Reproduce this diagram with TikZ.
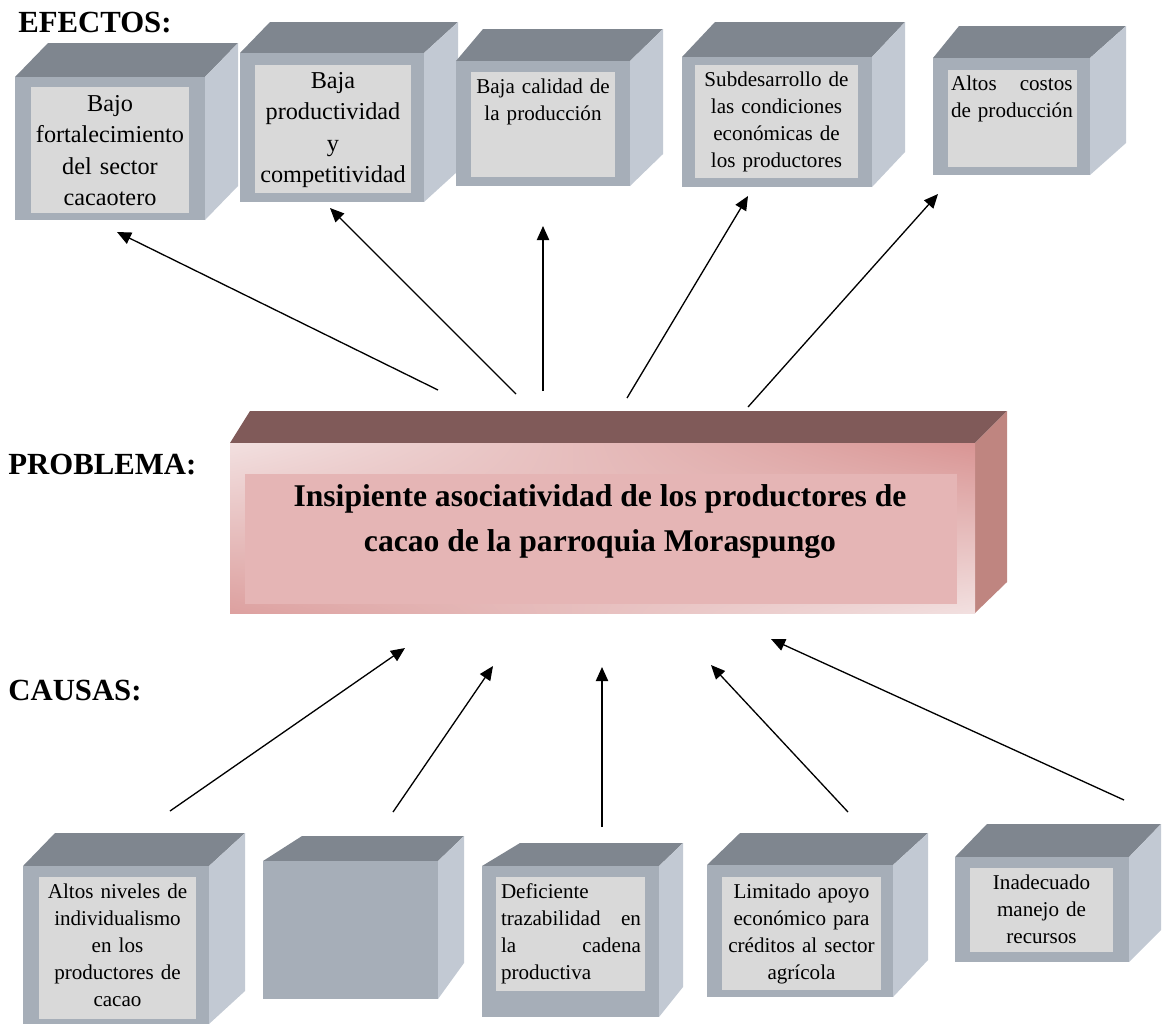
\documentclass[tikz,border=0pt]{standalone}
\usepackage{fontspec}
\setmainfont{Liberation Serif}
\usepackage{xcolor}
\usetikzlibrary{arrows.meta,shadings}
\definecolor{graytop}{HTML}{7F868F}
\definecolor{grayfront}{HTML}{A6AEB8}
\definecolor{grayside}{HTML}{C2C9D3}
\definecolor{grayinner}{HTML}{D9D9D9}
\definecolor{rosetop}{HTML}{805A59}
\definecolor{roseside}{HTML}{BF8580}
\definecolor{roseinner}{HTML}{E5B5B5}
\definecolor{roselight}{HTML}{F2E0E0}
\definecolor{rosedark}{HTML}{D99594}
\newcommand{\spread}[3]{\makebox[#1]{#2\hfill #3}}

\begin{document}
\begin{tikzpicture}[x=0.02cm, y=-0.02cm,
  cubetop/.style={fill=graytop},
  cubeside/.style={fill=grayside},
  cubefront/.style={fill=grayfront},
  cubeinner/.style={fill=grayinner},
  boxtext/.style={anchor=north, inner sep=3pt, align=center, font=\fontsize{12}{15.4}\selectfont},
  bigboxtext/.style={boxtext, font=\fontsize{13.8}{17.8}\selectfont},
  heading/.style={anchor=base west, inner sep=0pt, font=\fontsize{17.5}{21}\selectfont\bfseries},
  causearrow/.style={line width=0.75pt, -{Triangle[length=8pt,width=7pt]}}]
\useasboundingbox (0,0) rectangle (1168,1029);

\node [heading] (efectos) at (18,32) {EFECTOS:};
\node [heading] (problemalbl) at (8,474) {PROBLEMA:};
\node [heading] (causas) at (8,700) {CAUSAS:};

\fill [cubetop] (15,77) -- (48,43) -- (238,43) -- (205,77) -- cycle;
\fill [cubeside] (205,77) -- (238,43) -- (238,186) -- (205,220) -- cycle;
\fill [cubefront] (15,77) rectangle (205,220);
\fill [cubeinner] (31,87) rectangle (189,213);
\node [bigboxtext, text width=3.1cm] (fortalecimiento) at (110,90) {Bajo\\fortalecimiento\\del sector\\cacaotero};

\fill [cubetop] (240,53) -- (270,22) -- (458,22) -- (424,53) -- cycle;
\fill [cubeside] (424,53) -- (458,22) -- (458,171) -- (424,202) -- cycle;
\fill [cubefront] (240,53) rectangle (424,202);
\fill [cubeinner] (255,65) rectangle (411,193);
\node [bigboxtext, text width=3.1cm] (productividad) at (333,67) {Baja\\productividad\\y\\competitividad};

\fill [cubetop] (456,61) -- (483,29) -- (663,29) -- (630,61) -- cycle;
\fill [cubeside] (630,61) -- (663,29) -- (663,154) -- (630,186) -- cycle;
\fill [cubefront] (456,61) rectangle (630,186);
\fill [cubeinner] (471,72) rectangle (615,177);
\node [boxtext, text width=2.9cm] (calidad) at (543,73) {Baja calidad de\\la producción};

\fill [cubetop] (682,57) -- (715,22) -- (905,22) -- (872,57) -- cycle;
\fill [cubeside] (872,57) -- (905,22) -- (905,152) -- (872,187) -- cycle;
\fill [cubefront] (682,57) rectangle (872,187);
\fill [cubeinner] (695,65) rectangle (858,178);
\node [boxtext, text width=3.2cm] (subdesarrollo) at (776.5,66) {Subdesarrollo de\\las condiciones\\económicas de\\los productores};

\fill [cubetop] (933,58) -- (959,26) -- (1126,26) -- (1090,58) -- cycle;
\fill [cubeside] (1090,58) -- (1126,26) -- (1126,143) -- (1090,175) -- cycle;
\fill [cubefront] (933,58) rectangle (1090,175);
\fill [cubeinner] (948,70) rectangle (1077,167);
\node [boxtext, align=left, text width=2.6cm] (costos) at (1016,70) {\spread{2.43cm}{Altos}{costos}\\de producción};

\fill [rosetop] (230,443) -- (250,411) -- (1007,411) -- (975,443) -- cycle;
\fill [roseside] (975,443) -- (1007,411) -- (1007,582) -- (975,613) -- cycle;
\shade [upper left=roselight, upper right=rosedark, lower left=rosedark!85!roselight, lower right=roselight] (230,443) rectangle (975,613);
\fill [roseinner] (245,474) rectangle (957,604);
\node [anchor=north, inner sep=0pt, align=center, font=\fontsize{18}{25.5}\selectfont\bfseries] (problema) at (600,484) {Insipiente asociatividad de los productores de\\cacao de la parroquia Moraspungo};

\fill [cubetop] (23,866) -- (55,833) -- (245,833) -- (209,866) -- cycle;
\fill [cubeside] (209,866) -- (245,833) -- (245,991) -- (209,1024) -- cycle;
\fill [cubefront] (23,866) rectangle (209,1024);
\fill [cubeinner] (39,877) rectangle (196,1019);
\node [boxtext, text width=3.1cm] (individualismo) at (117.5,878) {Altos niveles de\\individualismo\\en los\\productores de\\cacao};

\fill [cubetop] (263,861) -- (302,836) -- (464,836) -- (438,861) -- cycle;
\fill [cubeside] (438,861) -- (464,836) -- (464,963) -- (438,999) -- cycle;
\fill [cubefront] (263,861) rectangle (438,999);

\fill [cubetop] (482,866) -- (520,843) -- (683,843) -- (659,866) -- cycle;
\fill [cubeside] (659,866) -- (683,843) -- (683,987) -- (659,1017) -- cycle;
\fill [cubefront] (482,866) rectangle (659,1017);
\fill [cubeinner] (496,877) rectangle (645,991);
\node [boxtext, align=left, text width=2.8cm] (trazabilidad) at (571,878) {Deficiente\\\spread{2.8cm}{trazabilidad}{en}\\\spread{2.8cm}{la}{cadena}\\productiva};

\fill [cubetop] (707,865) -- (740,833) -- (928,833) -- (893,865) -- cycle;
\fill [cubeside] (893,865) -- (928,833) -- (928,960) -- (893,997) -- cycle;
\fill [cubefront] (707,865) rectangle (893,997);
\fill [cubeinner] (722,877) rectangle (881,990);
\node [boxtext, text width=3.2cm] (apoyo) at (801.5,878) {Limitado apoyo\\económico para\\créditos al sector\\agrícola};

\fill [cubetop] (955,857) -- (987,824) -- (1161,824) -- (1129,857) -- cycle;
\fill [cubeside] (1129,857) -- (1161,824) -- (1161,930) -- (1129,962) -- cycle;
\fill [cubefront] (955,857) rectangle (1129,962);
\fill [cubeinner] (970,868) rectangle (1113,952);
\node [boxtext, text width=2.8cm] (recursos) at (1041.5,869) {Inadecuado\\manejo de\\recursos};

\coordinate (up1) at (438,390);
\coordinate (up2) at (516,394);
\coordinate (up3) at (543,391);
\coordinate (up4) at (627,398);
\coordinate (up5) at (748,407);
\coordinate (tip1) at (117,232);
\coordinate (tip2) at (330,208);
\coordinate (tip3) at (543,226);
\coordinate (tip4) at (748,196);
\coordinate (tip5) at (938,194);
\draw [causearrow] (up1) -- (tip1);
\draw [causearrow] (up2) -- (tip2);
\draw [causearrow] (up3) -- (tip3);
\draw [causearrow] (up4) -- (tip4);
\draw [causearrow] (up5) -- (tip5);

\coordinate (low1) at (170,811);
\coordinate (low2) at (393,812);
\coordinate (low3) at (602,827);
\coordinate (low4) at (848,812);
\coordinate (low5) at (1124,800);
\coordinate (head1) at (405,648);
\coordinate (head2) at (493,666);
\coordinate (head3) at (602,667);
\coordinate (head4) at (711,665);
\coordinate (head5) at (771,639);
\draw [causearrow] (low1) -- (head1);
\draw [causearrow] (low2) -- (head2);
\draw [causearrow] (low3) -- (head3);
\draw [causearrow] (low4) -- (head4);
\draw [causearrow] (low5) -- (head5);

\end{tikzpicture}
\end{document}
